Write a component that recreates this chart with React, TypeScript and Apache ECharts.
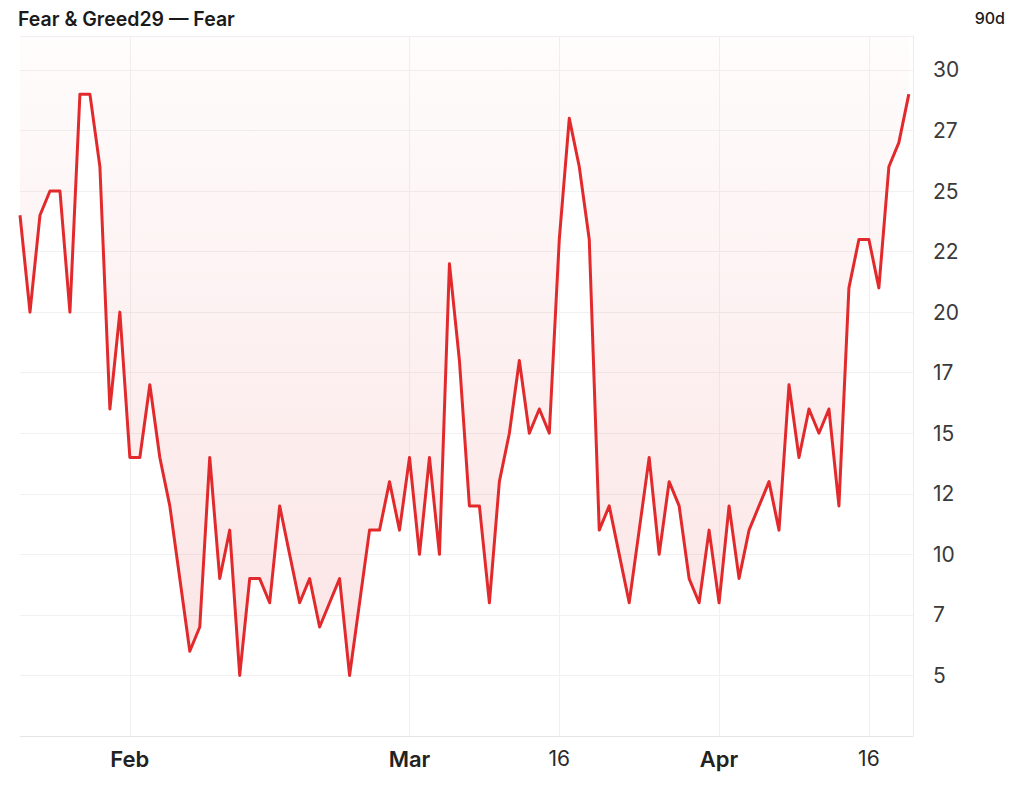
import React, { useEffect, useRef } from "react";
import * as echarts from "echarts";

const title = "Fear & Greed29 — Fear";
const rangeLabel = "90d";
const startDate = [2025, 0, 21]; // Jan 21, 2025 — one value per day
const values = [
  24, 20, 24, 25, 25, 20, 29, 29, 26, 16,
  20, 14, 14, 17, 14, 12, 9, 6, 7, 14,
  9, 11, 5, 9, 9, 8, 12, 10, 8, 9,
  7, 8, 9, 5, 8, 11, 11, 13, 11, 14,
  10, 14, 10, 22, 18, 12, 12, 8, 13, 15,
  18, 15, 16, 15, 23, 28, 26, 23, 11, 12,
  10, 8, 11, 14, 10, 13, 12, 9, 8, 11,
  8, 12, 9, 11, 12, 13, 11, 17, 14, 16,
  15, 16, 12, 21, 23, 23, 21, 26, 27, 29,
];
const tickDates = [
  [2025, 1, 1],
  [2025, 2, 1],
  [2025, 2, 16],
  [2025, 3, 1],
  [2025, 3, 16],
];
const monthNames = ["Jan", "Feb", "Mar", "Apr", "May", "Jun", "Jul", "Aug", "Sep", "Oct", "Nov", "Dec"];
const yMin = 2.5;
const yMax = 31.4;
const yStep = 2.5;

export default function App() {
  const ref = useRef<HTMLDivElement>(null);
  useEffect(() => {
    if (!ref.current) return;
    const chart = echarts.init(ref.current, null, { renderer: "svg" });
    const data = values.map((v, i) => [
      new Date(startDate[0], startDate[1], startDate[2] + i).getTime(),
      v,
    ]);
    const ticks = tickDates.map((d) => new Date(d[0], d[1], d[2]).getTime());
    const xMin = data[0][0];
    const xMax = data[data.length - 1][0] + 10 * 3600 * 1000;
    chart.setOption({
      animation: false,
      textStyle: { fontFamily: "Inter" },
      title: [
        {
          text: title,
          left: 18,
          top: 9,
          padding: 0,
          textStyle: { fontSize: 19.5, fontWeight: 600, color: "#1a1a1a", fontFamily: "Inter" },
        },
        {
          text: rangeLabel,
          right: 19,
          top: 10,
          padding: 0,
          textStyle: { fontSize: 16, fontWeight: 500, color: "#1a1a1a", fontFamily: "Inter" },
        },
      ],
      grid: { left: 20, right: 111, top: 36, bottom: 50, containLabel: false },
      xAxis: {
        type: "value",
        min: xMin,
        max: xMax,
        axisLine: { show: true, lineStyle: { color: "#e6e6e6", width: 1 } },
        axisTick: { show: false, customValues: ticks },
        splitLine: { show: true, lineStyle: { color: "#f1f1f1", width: 1 } },
        axisLabel: {
          customValues: ticks,
          fontSize: 22,
          color: "#222",
          margin: 12,
          fontFamily: "Inter",
          formatter: (v: number) => {
            const d = new Date(v);
            return d.getDate() === 1
              ? "{m|" + monthNames[d.getMonth()] + "}"
              : "{d|" + d.getDate() + "}";
          },
          rich: {
            m: { fontSize: 22, fontWeight: 600, color: "#222", fontFamily: "Inter" },
            d: { fontSize: 21, fontWeight: 400, color: "#2a2a2a", fontFamily: "Inter" },
          },
        },
      },
      yAxis: {
        type: "value",
        position: "right",
        min: yMin,
        max: yMax,
        interval: yStep,
        axisLine: { show: true, lineStyle: { color: "#ececec", width: 1 } },
        axisTick: { show: false },
        splitLine: { show: true, lineStyle: { color: "#f1f1f1", width: 1 } },
        axisLabel: {
          fontSize: 21,
          color: "#3a3a3a",
          margin: 20,
          fontFamily: "Inter",
          formatter: (v: number) =>
            v <= yMin + 0.01 || Math.abs(v / yStep - Math.round(v / yStep)) > 0.001
              ? ""
              : String(Math.floor(v)),
        },
      },
      series: [
        {
          type: "line",
          data,
          showSymbol: false,
          symbol: "none",
          lineStyle: { color: "#e22a2d", width: 3, join: "round" },
          areaStyle: {
            origin: "end",
            color: new echarts.graphic.LinearGradient(0, 0, 0, 1, [
              { offset: 0, color: "rgba(226,42,45,0.02)" },
              { offset: 1, color: "rgba(226,42,45,0.18)" },
            ]),
          },
        },
      ],
    });
    return () => chart.dispose();
  }, []);
  return (
    <div
      ref={ref}
      style={{ position: "absolute", left: 0, top: 0, width: 1024, height: 786, background: "#fff" }}
    />
  );
}
